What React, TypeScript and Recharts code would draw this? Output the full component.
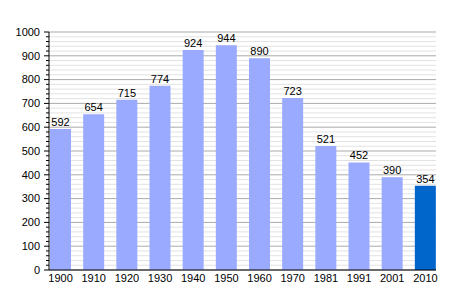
import React from 'react';
import { BarChart, Bar, XAxis, YAxis, CartesianGrid, LabelList, Cell } from 'recharts';

const years = ['1900', '1910', '1920', '1930', '1940', '1950', '1960', '1970', '1981', '1991', '2001', '2010'];
const population = [592, 654, 715, 774, 924, 944, 890, 723, 521, 452, 390, 354];
const highlightYear = '2010';
const yTicks = [0, 20, 40, 60, 80, 100, 120, 140, 160, 180, 200, 220, 240, 260, 280, 300, 320, 340, 360, 380, 400, 420, 440, 460, 480, 500, 520, 540, 560, 580, 600, 620, 640, 660, 680, 700, 720, 740, 760, 780, 800, 820, 840, 860, 880, 900, 920, 940, 960, 980, 1000];

const data = years.map((y, i) => ({ year: y, value: population[i] }));

const FONT = '"Liberation Sans", Arial, sans-serif';

const YTick = (props: any) => {
  const { x, y, payload } = props;
  const major = payload.value % 100 === 0;
  return (
    <g>
      <line x1={x - (major ? 5 : 3)} x2={x} y1={y} y2={y} stroke="#000" strokeWidth={1} />
      {major && (
        <text x={x - 9} y={y} dy="0.35em" textAnchor="end" fontSize={11} fontFamily={FONT} fill="#000">
          {payload.value}
        </text>
      )}
    </g>
  );
};

const GridLine = (props: any) => {
  const { x1, x2, y1, y2, index } = props;
  const major = index % 5 === 0;
  return <line x1={x1} x2={x2} y1={y1} y2={y2} stroke={major ? '#aaaaaa' : '#e2e2e2'} strokeWidth={1} />;
};

export default function App() {
  return (
    <div style={{ position: 'absolute', left: 0, top: 0, width: 464, height: 300, background: '#fff' }}>
      <BarChart width={464} height={300} data={data} margin={{ top: 32, right: 28, bottom: 0, left: 0 }} barSize={21}>
        <CartesianGrid vertical={false} horizontal={GridLine as any} />
        <XAxis
          dataKey="year"
          height={30}
          tickLine={false}
          tickSize={0}
          tickMargin={4}
          axisLine={{ stroke: '#000' }}
          padding={{ left: -5, right: -6 }}
          tick={{ fontSize: 11, fontFamily: FONT, fill: '#000' }}
          interval={0}
        />
        <YAxis
          width={49}
          domain={[0, 1000]}
          ticks={yTicks}
          interval={0}
          tickLine={false}
          tickSize={0}
          tickMargin={0}
          axisLine={{ stroke: '#000' }}
          tick={<YTick />}
        />
        <Bar dataKey="value" isAnimationActive={false}>
          {data.map((d) => (
            <Cell key={d.year} fill={d.year === highlightYear ? '#0066cc' : '#99aaff'} />
          ))}
          <LabelList dataKey="value" position="top" offset={3} style={{ fontSize: 11, fontFamily: FONT, fill: '#000' }} />
        </Bar>
      </BarChart>
    </div>
  );
}
